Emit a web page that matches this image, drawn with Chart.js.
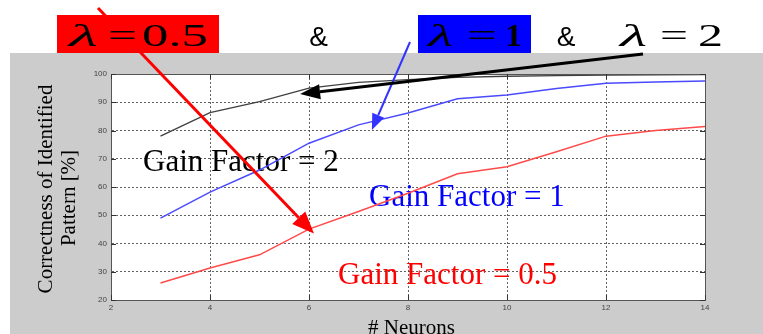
<!DOCTYPE html>
<html><head><meta charset="utf-8">
<script src="https://cdn.jsdelivr.net/npm/chart.js@4/dist/chart.umd.min.js"></script>
<style>html,body{margin:0;padding:0;background:#fff;}canvas{display:block;}</style>
</head><body>
<canvas id="c" width="763" height="334"></canvas>
<script>
// ---- data ----
const neurons = [3, 4, 5, 6, 7, 8, 9, 10, 11, 12, 13, 14];
const gain2  = [78, 86.3, 90.2, 95, 97, 98, 98.8, 99.2, 99.4, 99.6, 99.7, 99.8];
const gain1  = [49, 58.2, 66, 75.5, 82, 86.2, 91.2, 92.6, 94.9, 96.7, 97.2, 97.5];
const gain05 = [26, 31.3, 36, 45.1, 51.3, 57.8, 64.7, 67.2, 72.5, 78, 80, 81.4];
const seriesLabels = ['Gain Factor = 2', 'Gain Factor = 1', 'Gain Factor = 0.5'];
const xTicks = [2, 4, 6, 8, 10, 12, 14];
const yTicks = [20, 30, 40, 50, 60, 70, 80, 90, 100];
const xTitle = '# Neurons';
const yTitle = ['Correctness of Identified', 'Pattern [%]'];

const SERIF = '"Liberation Serif", "Times New Roman", serif';
const SANS = '"Liberation Sans", Arial, sans-serif';

const toXY = ys => neurons.map((n, i) => ({x: n, y: ys[i]}));

// in-plot labels (pixel placement)
const plotLabels = [
  {text: seriesLabels[0], color: '#000000', x: 143, y: 171},
  {text: seriesLabels[1], color: '#0000ff', x: 369, y: 206},
  {text: seriesLabels[2], color: '#ff0000', x: 338, y: 284}
];

// arrows: tail in pixels, tip in data coordinates
const arrows = [
  {color: '#ff0000', tail: [98, 8],  tip: [6.1, 43.5], w: 3, hl: 22, hw: 18},
  {color: '#3333ff', tail: [410, 42], tip: [7.27, 80.2], w: 2, hl: 16, hw: 13},
  {color: '#000000', tail: [643, 54], tip: [5.82, 92.9], w: 3, hl: 20, hw: 15}
];

// header pieces
const header = [
  {box: '#ff0000', bx: 57, bw: 162, parts: [
    {t: 'λ', it: true, x: 69, w: 29}, {t: '=', x: 108, w: 29}, {t: '0.5', x: 142, w: 66}]},
  {amp: true, x: 318.5},
  {box: '#0000ff', bx: 418, bw: 113, parts: [
    {t: 'λ', it: true, x: 428, w: 25}, {t: '=', x: 467, w: 30}, {t: '1', bold: true, x: 505, w: 17}]},
  {amp: true, x: 566},
  {parts: [
    {t: 'λ', it: true, x: 620, w: 27}, {t: '=', x: 660, w: 28}, {t: '2', x: 698, w: 25}]}
];

function drawArrow(ctx, x1, y1, x2, y2, color, w, hl, hw) {
  const ang = Math.atan2(y2 - y1, x2 - x1);
  const bx = x2 - Math.cos(ang) * hl, by = y2 - Math.sin(ang) * hl;
  ctx.save();
  ctx.strokeStyle = color; ctx.fillStyle = color; ctx.lineWidth = w;
  ctx.beginPath(); ctx.moveTo(x1, y1); ctx.lineTo(bx, by); ctx.stroke();
  const px = -Math.sin(ang) * hw / 2, py = Math.cos(ang) * hw / 2;
  ctx.beginPath(); ctx.moveTo(x2, y2); ctx.lineTo(bx + px, by + py); ctx.lineTo(bx - px, by - py);
  ctx.closePath(); ctx.fill();
  ctx.restore();
}

const deco = {
  id: 'deco',
  beforeDraw(chart) {
    const {ctx, chartArea: a} = chart;
    ctx.save();
    ctx.fillStyle = '#ffffff'; ctx.fillRect(0, 0, chart.width, chart.height);
    ctx.fillStyle = '#cccccc'; ctx.fillRect(10, 53, chart.width - 10, chart.height - 53);
    ctx.fillStyle = '#ffffff'; ctx.fillRect(a.left, a.top, a.right - a.left, a.bottom - a.top);
    ctx.restore();
  },
  beforeDatasetsDraw(chart) {
    const {ctx} = chart;
    ctx.save();
    ctx.font = '31px ' + SERIF; ctx.textBaseline = 'alphabetic'; ctx.textAlign = 'left';
    plotLabels.forEach(l => { ctx.fillStyle = l.color; ctx.fillText(l.text, l.x, l.y); });
    ctx.restore();
  },
  afterDatasetsDraw(chart) {
    const {ctx, chartArea: a, scales: {x: xs, y: ys}} = chart;
    ctx.save();
    // plot box
    ctx.strokeStyle = '#555'; ctx.lineWidth = 1;
    ctx.strokeRect(Math.round(a.left) + 0.5, Math.round(a.top) + 0.5, Math.round(a.right - a.left), Math.round(a.bottom - a.top));
    // inner tick marks
    ctx.strokeStyle = '#333';
    ctx.beginPath();
    xTicks.forEach(v => { const p = Math.round(xs.getPixelForValue(v)) + 0.5;
      ctx.moveTo(p, a.bottom); ctx.lineTo(p, a.bottom - 5); ctx.moveTo(p, a.top); ctx.lineTo(p, a.top + 5); });
    yTicks.forEach(v => { const p = Math.round(ys.getPixelForValue(v)) + 0.5;
      ctx.moveTo(a.left, p); ctx.lineTo(a.left + 5, p); ctx.moveTo(a.right, p); ctx.lineTo(a.right - 5, p); });
    ctx.stroke();
    ctx.restore();

    // arrows
    arrows.forEach(ar => drawArrow(ctx, ar.tail[0], ar.tail[1],
      xs.getPixelForValue(ar.tip[0]), ys.getPixelForValue(ar.tip[1]), ar.color, ar.w, ar.hl, ar.hw));

    // header
    ctx.save();
    header.forEach(h => {
      if (h.box) { ctx.fillStyle = h.box; ctx.fillRect(h.bx, 15, h.bw, 38); }
      if (h.amp) {
        ctx.fillStyle = '#000'; ctx.font = '28px ' + SANS; ctx.textAlign = 'center';
        ctx.fillText('&', h.x, 46);
      }
      if (h.parts) h.parts.forEach(p => {
        ctx.font = (p.it ? 'italic ' : '') + (p.bold ? 'bold ' : '') + '31px ' + SERIF;
        ctx.textAlign = 'left'; ctx.fillStyle = '#000';
        const mw = ctx.measureText(p.t).width;
        ctx.save(); ctx.translate(p.x, 45.5); ctx.scale(p.w / mw, 1);
        ctx.fillText(p.t, 0, 0); ctx.restore();
      });
    });
    ctx.restore();

    // axis titles
    ctx.save();
    ctx.fillStyle = '#000'; ctx.font = '21px ' + SERIF; ctx.textAlign = 'center'; ctx.textBaseline = 'alphabetic';
    ctx.fillText(xTitle, 411.5, 334);
    ctx.save(); ctx.translate(52, 189); ctx.rotate(-Math.PI / 2); ctx.fillText(yTitle[0], 0, 0); ctx.restore();
    ctx.save(); ctx.translate(75, 198); ctx.rotate(-Math.PI / 2); ctx.fillText(yTitle[1], 0, 0); ctx.restore();
    ctx.restore();
  }
};

new Chart(document.getElementById('c'), {
  type: 'line',
  data: {
    datasets: [
      {label: seriesLabels[0], data: toXY(gain2), borderColor: '#404040', borderWidth: 1.3, pointRadius: 0, tension: 0},
      {label: seriesLabels[1], data: toXY(gain1), borderColor: '#4a4aff', borderWidth: 1.5, pointRadius: 0, tension: 0},
      {label: seriesLabels[2], data: toXY(gain05), borderColor: '#ff4a4a', borderWidth: 1.5, pointRadius: 0, tension: 0}
    ]
  },
  options: {
    responsive: false, animation: false, devicePixelRatio: 1,
    layout: {padding: {top: 74, right: 58, left: 0, bottom: 0}},
    plugins: {legend: {display: false}, tooltip: {enabled: false}, title: {display: false}},
    scales: {
      x: {
        type: 'linear', min: 2, max: 14,
        afterBuildTicks: s => { s.ticks = xTicks.map(v => ({value: v})); },
        afterFit: s => { s.height = 34; },
        ticks: {color: '#444', font: {size: 8, family: SANS}, padding: 3, maxRotation: 0, autoSkip: false},
        grid: {color: 'rgba(70,70,70,0.85)', drawTicks: false, lineWidth: 1},
        border: {display: true, color: '#777', width: 1, dash: [2, 2]}
      },
      y: {
        min: 20, max: 100,
        afterBuildTicks: s => { s.ticks = yTicks.map(v => ({value: v})); },
        afterFit: s => { s.width = 111; },
        ticks: {color: '#444', font: {size: 8, family: SANS}, padding: 4, autoSkip: false},
        grid: {color: 'rgba(70,70,70,0.85)', drawTicks: false, lineWidth: 1},
        border: {display: true, color: '#777', width: 1, dash: [2, 2]}
      }
    }
  },
  plugins: [deco]
});
</script>
</body></html>
